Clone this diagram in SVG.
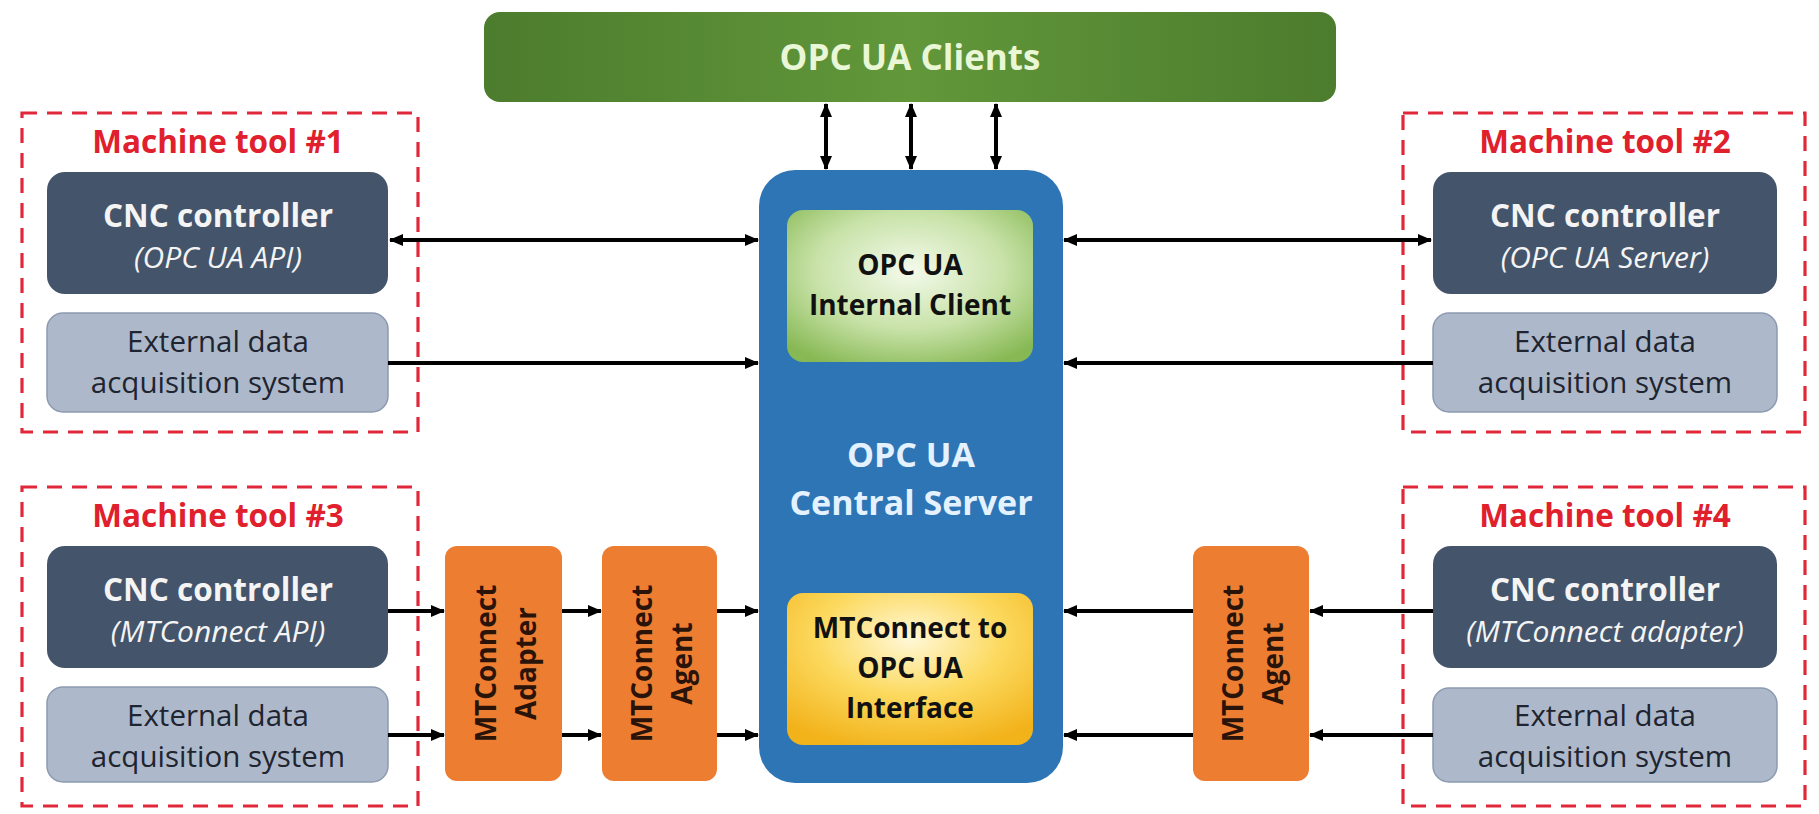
<svg xmlns="http://www.w3.org/2000/svg" width="1819" height="814" viewBox="0 0 1819 814">
<defs>
<linearGradient id="gGreen" x1="0" y1="0" x2="1" y2="0">
<stop offset="0" stop-color="#4c7c2d"/><stop offset="0.5" stop-color="#62973a"/><stop offset="1" stop-color="#4c7c2d"/>
</linearGradient>
<radialGradient id="gClient" cx="0.5" cy="0.4" r="0.7">
<stop offset="0" stop-color="#f4faec"/><stop offset="0.55" stop-color="#c8e2a8"/><stop offset="1" stop-color="#86b853"/>
</radialGradient>
<radialGradient id="gMT" cx="0.5" cy="0.3" r="0.75">
<stop offset="0" stop-color="#fff8d8"/><stop offset="0.5" stop-color="#fcd95e"/><stop offset="1" stop-color="#f2b21a"/>
</radialGradient>
<marker id="ah" viewBox="0 0 14 12" refX="13" refY="6" markerWidth="14" markerHeight="12" markerUnits="userSpaceOnUse" orient="auto-start-reverse">
<path d="M0,0 L14,6 L0,12 Z" fill="#000"/>
</marker>
<style>
.mt{fill:none;stroke:#e0283a;stroke-width:3.2;stroke-dasharray:15 10}
.lbl{font-family:"Open Sans","Liberation Sans",sans-serif;font-weight:bold;font-size:31.5px;fill:#e0202c;text-anchor:middle}
.cnc{fill:#44546a}
.ext{fill:#adb9ca;stroke:#8c9ab0;stroke-width:1.5}
.orange{fill:#ed7d31}
.tw{font-family:"Open Sans","Liberation Sans",sans-serif;font-weight:bold;font-size:31.5px;fill:#f4f4f4;text-anchor:middle}
.ti{font-family:"Open Sans","Liberation Sans",sans-serif;font-style:italic;font-size:30px;fill:#f4f4f4;text-anchor:middle}
.td{font-family:"Open Sans","Liberation Sans",sans-serif;font-size:29.5px;fill:#1e2430;text-anchor:middle}
.tb{font-family:"Open Sans","Liberation Sans",sans-serif;font-weight:bold;font-size:28px;fill:#111;text-anchor:middle}
.to{font-family:"Open Sans","Liberation Sans",sans-serif;font-weight:bold;font-size:28px;fill:#2a140a;text-anchor:middle}
.conn line{stroke:#000;stroke-width:4}
</style>
</defs>
<rect width="1819" height="814" fill="#ffffff"/>

<g id="clients">
<rect x="484" y="12" width="852" height="90" rx="16" fill="url(#gGreen)"/>
<text x="910" y="70" font-family="'Open Sans','Liberation Sans',sans-serif" font-weight="bold" font-size="35" fill="#e9f7d6" text-anchor="middle">OPC UA Clients</text>
</g>

<g id="server">
<rect x="759" y="170" width="304" height="613" rx="36" fill="#2e75b6"/>
<text x="911" y="467" font-family="'Open Sans','Liberation Sans',sans-serif" font-weight="bold" font-size="34" fill="#e4f2ff" text-anchor="middle">OPC UA</text>
<text x="911" y="515" font-family="'Open Sans','Liberation Sans',sans-serif" font-weight="bold" font-size="34" fill="#e4f2ff" text-anchor="middle">Central Server</text>
</g>
<g id="internal-client">
<rect x="787" y="210" width="246" height="152" rx="16" fill="url(#gClient)"/>
<text class="tb" x="910" y="275">OPC UA</text>
<text class="tb" x="910" y="315">Internal Client</text>
</g>
<g id="mt-interface">
<rect x="787" y="593" width="246" height="152" rx="16" fill="url(#gMT)"/>
<text class="tb" x="910" y="638">MTConnect to</text>
<text class="tb" x="910" y="678">OPC UA</text>
<text class="tb" x="910" y="718">Interface</text>
</g>

<g id="machine-tool-1">
<rect class="mt" x="22" y="113" width="396" height="319"/>
<text class="lbl" x="218" y="153">Machine tool #1</text>
<rect class="cnc" x="47" y="172" width="341" height="122" rx="18"/>
<text class="tw" x="218" y="227">CNC controller</text>
<text class="ti" x="218" y="268">(OPC UA API)</text>
<rect class="ext" x="47" y="313" width="341" height="99" rx="16"/>
<text class="td" x="218" y="352">External data</text>
<text class="td" x="218" y="393">acquisition system</text>
</g>

<g id="machine-tool-2">
<rect class="mt" x="1403" y="113" width="402" height="319"/>
<text class="lbl" x="1605" y="153">Machine tool #2</text>
<rect class="cnc" x="1433" y="172" width="344" height="122" rx="18"/>
<text class="tw" x="1605" y="227">CNC controller</text>
<text class="ti" x="1605" y="268">(OPC UA Server)</text>
<rect class="ext" x="1433" y="313" width="344" height="99" rx="16"/>
<text class="td" x="1605" y="352">External data</text>
<text class="td" x="1605" y="393">acquisition system</text>
</g>

<g id="machine-tool-3">
<rect class="mt" x="22" y="487" width="396" height="319"/>
<text class="lbl" x="218" y="527">Machine tool #3</text>
<rect class="cnc" x="47" y="546" width="341" height="122" rx="18"/>
<text class="tw" x="218" y="601">CNC controller</text>
<text class="ti" x="218" y="642">(MTConnect API)</text>
<rect class="ext" x="47" y="687" width="341" height="95" rx="16"/>
<text class="td" x="218" y="726">External data</text>
<text class="td" x="218" y="767">acquisition system</text>
</g>

<g id="machine-tool-4">
<rect class="mt" x="1403" y="487" width="402" height="319"/>
<text class="lbl" x="1605" y="527">Machine tool #4</text>
<rect class="cnc" x="1433" y="546" width="344" height="122" rx="18"/>
<text class="tw" x="1605" y="601">CNC controller</text>
<text class="ti" x="1605" y="642">(MTConnect adapter)</text>
<rect class="ext" x="1433" y="688" width="344" height="94" rx="16"/>
<text class="td" x="1605" y="726">External data</text>
<text class="td" x="1605" y="767">acquisition system</text>
</g>

<g id="mtconnect-adapter">
<rect class="orange" x="445" y="546" width="117" height="235" rx="12"/>
<text class="to" transform="translate(503.5,663.5) rotate(-90)" y="-8">MTConnect</text>
<text class="to" transform="translate(503.5,663.5) rotate(-90)" y="32">Adapter</text>
</g>
<g id="mtconnect-agent-left">
<rect class="orange" x="602" y="546" width="115" height="235" rx="12"/>
<text class="to" transform="translate(659.5,663.5) rotate(-90)" y="-8">MTConnect</text>
<text class="to" transform="translate(659.5,663.5) rotate(-90)" y="32">Agent</text>
</g>
<g id="mtconnect-agent-right">
<rect class="orange" x="1193" y="546" width="116" height="235" rx="12"/>
<text class="to" transform="translate(1251,663.5) rotate(-90)" y="-8">MTConnect</text>
<text class="to" transform="translate(1251,663.5) rotate(-90)" y="32">Agent</text>
</g>

<g id="connectors" class="conn">
<line x1="826" y1="104" x2="826" y2="169" marker-start="url(#ah)" marker-end="url(#ah)"/>
<line x1="911" y1="104" x2="911" y2="169" marker-start="url(#ah)" marker-end="url(#ah)"/>
<line x1="996" y1="104" x2="996" y2="169" marker-start="url(#ah)" marker-end="url(#ah)"/>
<line x1="390" y1="240" x2="758" y2="240" marker-start="url(#ah)" marker-end="url(#ah)"/>
<line x1="388" y1="363" x2="758" y2="363" marker-end="url(#ah)"/>
<line x1="1064" y1="240" x2="1431" y2="240" marker-start="url(#ah)" marker-end="url(#ah)"/>
<line x1="1433" y1="363" x2="1064" y2="363" marker-end="url(#ah)"/>
<line x1="388" y1="611" x2="444" y2="611" marker-end="url(#ah)"/>
<line x1="388" y1="735" x2="444" y2="735" marker-end="url(#ah)"/>
<line x1="562" y1="611" x2="601" y2="611" marker-end="url(#ah)"/>
<line x1="562" y1="735" x2="601" y2="735" marker-end="url(#ah)"/>
<line x1="717" y1="611" x2="758" y2="611" marker-end="url(#ah)"/>
<line x1="717" y1="735" x2="758" y2="735" marker-end="url(#ah)"/>
<line x1="1193" y1="611" x2="1064" y2="611" marker-end="url(#ah)"/>
<line x1="1193" y1="735" x2="1064" y2="735" marker-end="url(#ah)"/>
<line x1="1433" y1="611" x2="1310" y2="611" marker-end="url(#ah)"/>
<line x1="1433" y1="735" x2="1310" y2="735" marker-end="url(#ah)"/>
</g>
</svg>
